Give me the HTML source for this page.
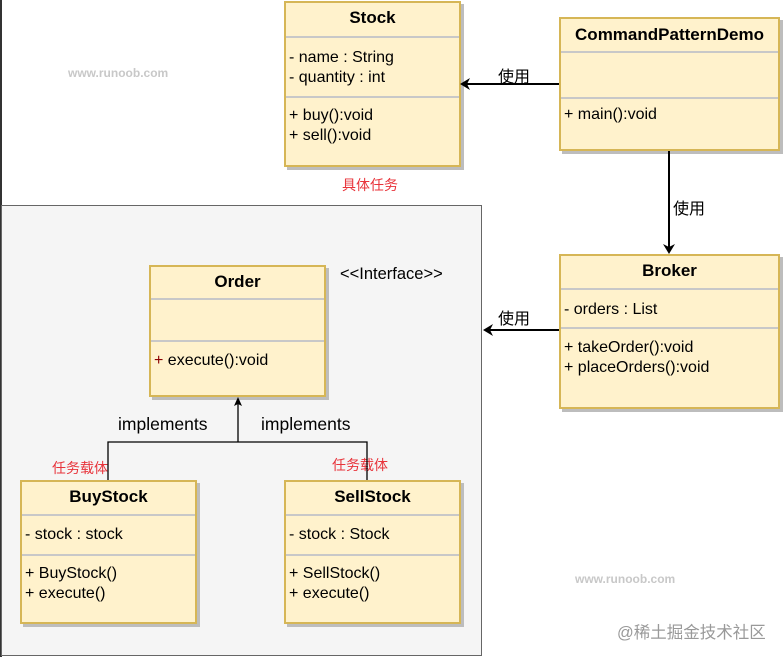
<!DOCTYPE html>
<html><head><meta charset="utf-8"><style>
body{margin:0;width:783px;height:657px;background:#fff;position:relative;overflow:hidden;font-family:"Liberation Sans","Noto Sans CJK SC",sans-serif;}
.a{position:absolute}
.box{position:absolute;background:#fff2cc;border:2px solid #d6b656;box-shadow:3px 3px 0 #bdbdbd;box-sizing:border-box}
.t{position:absolute;left:0;right:0;text-align:center;font-weight:bold;font-size:17px;color:#000}
.sep{position:absolute;left:0;right:0;height:0;border-top:2px solid #c8c8c8}
.ln{position:absolute;left:3px;font-size:16px;color:#000;line-height:20px;white-space:nowrap}
.red{color:#e8333a;font-size:14px;position:absolute;white-space:nowrap}
.lbl{position:absolute;font-size:17.5px;color:#000;white-space:nowrap}
.wm{position:absolute;font-size:12px;color:#c8c8c8;font-weight:bold}
</style></head><body>
<div class="a" style="left:0;top:0;width:2px;height:657px;background:#333"></div>
<div class="a" style="left:1px;top:205px;width:481px;height:451px;background:#f5f5f5;border:1px solid #666;box-sizing:border-box"></div>
<div class="wm" style="left:68px;top:66px">www.runoob.com</div>
<div class="wm" style="left:575px;top:572px">www.runoob.com</div>

<div class="box" style="left:284px;top:1px;width:177px;height:166px">
<div class="t" style="top:5px">Stock</div>
<div class="sep" style="top:33px"></div>
<div class="ln" style="top:45px">- name : String<br>- quantity : int</div>
<div class="sep" style="top:93px"></div>
<div class="ln" style="top:103px">+ buy():void<br>+ sell():void</div>
</div>
<div class="red" style="left:342px;top:175px">具体任务</div>

<div class="box" style="left:559px;top:17px;width:221px;height:134px">
<div class="t" style="top:6px">CommandPatternDemo</div>
<div class="sep" style="top:32px"></div>
<div class="sep" style="top:78px"></div>
<div class="ln" style="top:86px">+ main():void</div>
</div>

<div class="box" style="left:559px;top:254px;width:221px;height:155px">
<div class="t" style="top:5px">Broker</div>
<div class="sep" style="top:32px"></div>
<div class="ln" style="top:44px">- orders : List</div>
<div class="sep" style="top:71px"></div>
<div class="ln" style="top:82px">+ takeOrder():void<br>+ placeOrders():void</div>
</div>

<div class="box" style="left:149px;top:265px;width:177px;height:132px">
<div class="t" style="top:5px">Order</div>
<div class="sep" style="top:31px"></div>
<div class="sep" style="top:73px"></div>
<div class="ln" style="top:84px"><span style="color:#8b0000">+</span> execute():void</div>
</div>
<div class="lbl" style="left:340px;top:265px;font-size:16.5px">&lt;&lt;Interface&gt;&gt;</div>

<div class="box" style="left:20px;top:480px;width:177px;height:144px">
<div class="t" style="top:5px">BuyStock</div>
<div class="sep" style="top:32px"></div>
<div class="ln" style="top:43px">- stock : stock</div>
<div class="sep" style="top:72px"></div>
<div class="ln" style="top:82px">+ BuyStock()<br>+ execute()</div>
</div>
<div class="box" style="left:284px;top:480px;width:177px;height:144px">
<div class="t" style="top:5px">SellStock</div>
<div class="sep" style="top:32px"></div>
<div class="ln" style="top:43px">- stock : Stock</div>
<div class="sep" style="top:72px"></div>
<div class="ln" style="top:82px">+ SellStock()<br>+ execute()</div>
</div>
<div class="red" style="left:52px;top:458px">任务载体</div>
<div class="red" style="left:332px;top:455px">任务载体</div>
<div class="lbl" style="left:118px;top:414px">implements</div>
<div class="lbl" style="left:261px;top:414px">implements</div>
<div class="lbl" style="left:498px;top:63px;font-size:16px">使用</div>
<div class="lbl" style="left:673px;top:195px;font-size:16px">使用</div>
<div class="lbl" style="left:498px;top:305px;font-size:16px">使用</div>
<div class="a" style="left:617px;top:619px;font-size:16.5px;color:#999">@稀土掘金技术社区</div>

<svg class="a" style="left:0;top:0" width="783" height="657">
<g stroke="#000" stroke-width="2" fill="none">
<line x1="559" y1="84" x2="466" y2="84"/>
<line x1="669" y1="151" x2="669" y2="248"/>
<line x1="559" y1="330" x2="489" y2="330"/>
</g>
<g fill="#000">
<polygon points="460,84 470,78 467,84 470,90"/>
<polygon points="669,254 663,244 669,247 675,244"/>
<polygon points="483,330 493,324 490,330 493,336"/>
<polygon points="238,397 234,406 238,404 242,406"/>
</g>
<g stroke="#000" stroke-width="1.3" fill="none">
<polyline points="108,480 108,442 367,442 367,480"/>
<line x1="238" y1="442" x2="238" y2="403"/>
</g>
</svg>
</body></html>
